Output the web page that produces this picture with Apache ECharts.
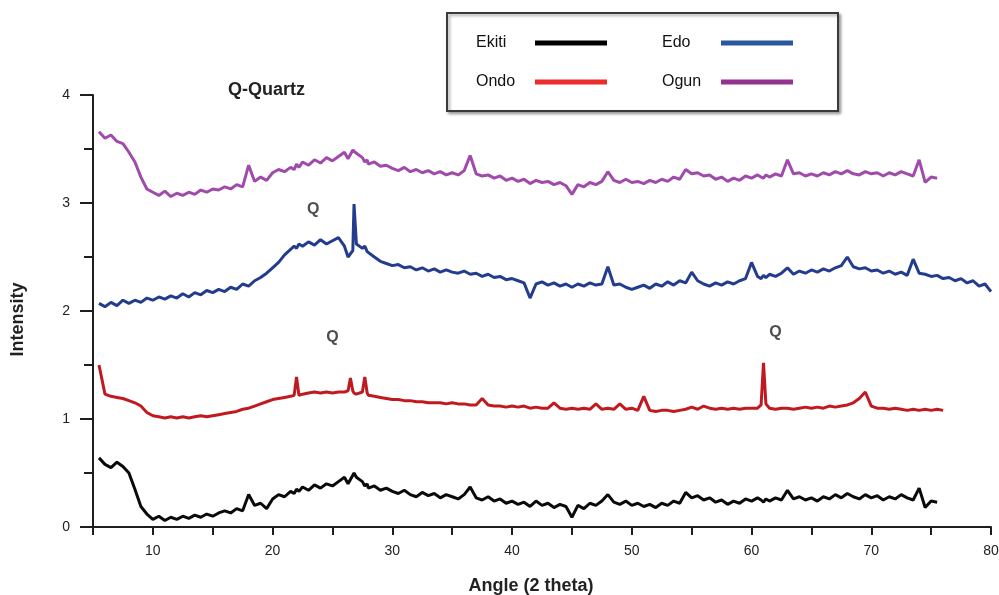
<!DOCTYPE html>
<html><head><meta charset="utf-8">
<script src="https://cdn.jsdelivr.net/npm/echarts@6/dist/echarts.min.js"></script>
<style>html,body{margin:0;padding:0;background:#fff}#c{width:999px;height:595px}</style>
</head><body><div id="c"></div>
<script>
// ---- data ----
const angles = [
  5.5, 6, 6.5, 7, 7.5, 8, 8.5, 9, 9.5, 10,
  10.5, 11, 11.5, 12, 12.5, 13, 13.5, 14, 14.5, 15,
  15.5, 16, 16.5, 17, 17.5, 18, 18.5, 19, 19.5, 20,
  20.5, 21, 21.5, 21.8, 22, 22.2, 22.5, 23, 23.5, 24, 24.5, 25,
  25.5, 26, 26.3, 26.5, 26.7, 26.8, 27, 27.5, 27.7, 27.9, 28, 28.5, 29, 29.5, 30,
  30.5, 31, 31.5, 32, 32.5, 33, 33.5, 34, 34.5, 35,
  35.5, 36, 36.5, 37, 37.5, 38, 38.5, 39, 39.5, 40,
  40.5, 41, 41.5, 42, 42.5, 43, 43.5, 44, 44.5, 45,
  45.5, 46, 46.5, 47, 47.5, 48, 48.5, 49, 49.5, 50,
  50.5, 51, 51.5, 52, 52.5, 53, 53.5, 54, 54.5, 55,
  55.5, 56, 56.5, 57, 57.5, 58, 58.5, 59, 59.5, 60,
  60.5, 60.8, 61, 61.2, 61.5, 62, 62.5, 63, 63.5, 64, 64.5, 65,
  65.5, 66, 66.5, 67, 67.5, 68, 68.5, 69, 69.5, 70,
  70.5, 71, 71.5, 72, 72.5, 73, 73.5, 74, 74.5, 75,
  75.5, 76, 76.5, 77, 77.5, 78, 78.5, 79, 79.5, 80
];
const ekiti = [
  0.64, 0.58, 0.55, 0.6, 0.56, 0.5, 0.35, 0.19, 0.12, 0.07,
  0.1, 0.06, 0.09, 0.07, 0.1, 0.08, 0.11, 0.09, 0.12, 0.1,
  0.13, 0.15, 0.13, 0.17, 0.15, 0.3, 0.2, 0.22, 0.17, 0.26,
  0.3, 0.28, 0.33, 0.31, 0.35, 0.33, 0.37, 0.34, 0.39, 0.36, 0.4, 0.38,
  0.42, 0.46, 0.4, 0.44, 0.48, 0.5, 0.46, 0.42, 0.38, 0.4, 0.36, 0.38, 0.34, 0.36, 0.33,
  0.31, 0.34, 0.3, 0.28, 0.32, 0.29, 0.31, 0.27, 0.3, 0.28,
  0.26, 0.3, 0.37, 0.27, 0.25, 0.28, 0.24, 0.26, 0.22, 0.24,
  0.21, 0.23, 0.19, 0.24, 0.2, 0.22, 0.18, 0.21, 0.19, 0.09,
  0.2, 0.17, 0.22, 0.2, 0.24, 0.3, 0.23, 0.21, 0.24, 0.2,
  0.22, 0.19, 0.21, 0.18, 0.22, 0.2, 0.24, 0.22, 0.32, 0.27,
  0.29, 0.25, 0.27, 0.23, 0.25, 0.21, 0.24, 0.22, 0.26, 0.24,
  0.27, 0.25, 0.23, 0.26, 0.24, 0.27, 0.25, 0.34, 0.26, 0.28, 0.25, 0.27,
  0.24, 0.28, 0.26, 0.3, 0.27, 0.31, 0.28, 0.26, 0.3, 0.27,
  0.29, 0.25, 0.28, 0.26, 0.3, 0.27, 0.25, 0.36, 0.18, 0.24,
  0.23, null, null, null, null, null, null, null, null, null
];
const ondo = [
  1.5, 1.23, 1.21, 1.2, 1.19, 1.17, 1.15, 1.12, 1.06, 1.03,
  1.02, 1.01, 1.02, 1.01, 1.02, 1.01, 1.02, 1.03, 1.02, 1.03,
  1.04, 1.05, 1.06, 1.07, 1.09, 1.1, 1.12, 1.14, 1.16, 1.18,
  1.19, 1.2, 1.21, 1.22, 1.39, 1.22, 1.23, 1.24, 1.25, 1.24, 1.25, 1.24,
  1.25, 1.25, 1.26, 1.38, 1.26, 1.24, 1.23, 1.25, 1.39, 1.24, 1.22, 1.21, 1.2, 1.19, 1.18,
  1.18, 1.17, 1.17, 1.16, 1.16, 1.15, 1.15, 1.15, 1.14, 1.15,
  1.14, 1.14, 1.13, 1.13, 1.19, 1.13, 1.12, 1.12, 1.11, 1.12,
  1.11, 1.12, 1.1, 1.11, 1.1, 1.1, 1.15, 1.1, 1.09, 1.1,
  1.09, 1.1, 1.09, 1.14, 1.09, 1.1, 1.09, 1.14, 1.09, 1.1,
  1.08, 1.21, 1.08, 1.07, 1.08, 1.08, 1.07, 1.08, 1.09, 1.11,
  1.09, 1.12, 1.1, 1.09, 1.1, 1.09, 1.1, 1.09, 1.1, 1.1,
  1.1, 1.13, 1.52, 1.14, 1.1, 1.09, 1.1, 1.1, 1.09, 1.1, 1.11, 1.1,
  1.11, 1.1, 1.12, 1.11, 1.12, 1.13, 1.15, 1.19, 1.25, 1.12,
  1.1, 1.1, 1.09, 1.1, 1.09, 1.08, 1.09, 1.08, 1.09, 1.08,
  1.09, 1.08, null, null, null, null, null, null, null, null
];
const edo = [
  2.07, 2.04, 2.08, 2.05, 2.1, 2.07, 2.1, 2.08, 2.12, 2.1,
  2.13, 2.11, 2.14, 2.12, 2.16, 2.13, 2.17, 2.15, 2.19, 2.17,
  2.2, 2.18, 2.22, 2.2, 2.25, 2.23, 2.28, 2.31, 2.35, 2.4,
  2.45, 2.52, 2.57, 2.6, 2.58, 2.62, 2.6, 2.64, 2.61, 2.66, 2.62, 2.65,
  2.68, 2.6, 2.5, 2.53, 2.56, 2.99, 2.62, 2.58, 2.6, 2.55, 2.54, 2.5, 2.46, 2.44, 2.42,
  2.43, 2.4, 2.41, 2.38, 2.4, 2.37, 2.39, 2.36, 2.38, 2.36,
  2.35, 2.37, 2.34, 2.35, 2.32, 2.34, 2.31, 2.32, 2.29, 2.3,
  2.28, 2.26, 2.12, 2.25, 2.27, 2.24, 2.26, 2.23, 2.25, 2.22,
  2.25, 2.23, 2.26, 2.24, 2.25, 2.41, 2.24, 2.25, 2.22, 2.2,
  2.22, 2.24, 2.21, 2.25, 2.23, 2.27, 2.24, 2.28, 2.26, 2.36,
  2.28, 2.25, 2.23, 2.26, 2.24, 2.27, 2.25, 2.28, 2.3, 2.45,
  2.32, 2.3, 2.33, 2.31, 2.34, 2.32, 2.35, 2.4, 2.34, 2.37, 2.35, 2.38,
  2.36, 2.39, 2.37, 2.4, 2.42, 2.5, 2.41, 2.39, 2.4, 2.37,
  2.38, 2.35, 2.37, 2.34, 2.36, 2.33, 2.48, 2.35, 2.34, 2.32,
  2.33, 2.3, 2.31, 2.28, 2.3, 2.26, 2.28, 2.23, 2.25, 2.18
];
const ogun = [
  3.66, 3.6, 3.63, 3.57, 3.55, 3.47, 3.38, 3.24, 3.13, 3.1,
  3.07, 3.11, 3.06, 3.09, 3.07, 3.1, 3.08, 3.12, 3.1, 3.13,
  3.12, 3.15, 3.13, 3.17, 3.15, 3.35, 3.2, 3.24, 3.21, 3.28,
  3.31, 3.29, 3.33, 3.31, 3.36, 3.33, 3.38, 3.35, 3.4, 3.37, 3.42, 3.39,
  3.43, 3.47, 3.41, 3.45, 3.49, 3.5, 3.46, 3.42, 3.38, 3.4, 3.36, 3.38, 3.34, 3.35, 3.32,
  3.3, 3.33, 3.29, 3.31, 3.28, 3.3, 3.27, 3.29, 3.26, 3.28,
  3.26, 3.3, 3.44, 3.27, 3.25, 3.26, 3.23, 3.25, 3.21, 3.23,
  3.2, 3.22, 3.18, 3.21, 3.19, 3.2, 3.17, 3.19, 3.16, 3.08,
  3.17, 3.15, 3.19, 3.17, 3.2, 3.29, 3.21, 3.19, 3.22, 3.19,
  3.2, 3.18, 3.21, 3.19, 3.22, 3.2, 3.24, 3.22, 3.31, 3.27,
  3.28, 3.25, 3.26, 3.22, 3.24, 3.2, 3.23, 3.21, 3.25, 3.23,
  3.26, 3.24, 3.23, 3.26, 3.24, 3.27, 3.25, 3.4, 3.27, 3.28, 3.25, 3.27,
  3.25, 3.28, 3.26, 3.29, 3.27, 3.3, 3.27, 3.26, 3.29, 3.27,
  3.28, 3.25, 3.28, 3.26, 3.29, 3.27, 3.25, 3.4, 3.19, 3.24,
  3.23, null, null, null, null, null, null, null, null, null
];
const seriesNames = ['Ekiti', 'Ondo', 'Edo', 'Ogun'];
const xTickLabels = [10, 20, 30, 40, 50, 60, 70, 80];
const yTickLabels = [0, 1, 2, 3, 4];
const qMarks = [[23.4, 2.94], [25.0, 1.75], [62.0, 1.8]];

// ---- chart ----
const FONT = '"Liberation Sans", Arial, sans-serif';
const TXT = '#222';
const colors = { Ekiti: '#0a0a0a', Ondo: '#c01a20', Edo: '#233c8e', Ogun: '#a04aab' };
const legendColors = { Ekiti: '#000000', Ondo: '#ec2b2b', Edo: '#2a56a0', Ogun: '#93338f' };
const valuesByName = { Ekiti: ekiti, Ondo: ondo, Edo: edo, Ogun: ogun };

const pair = arr => angles.map((a, i) => [a, arr[i]]);

const legendCommon = {
  orient: 'horizontal', align: 'right', icon: 'rect',
  itemWidth: 72, itemHeight: 5, itemGap: 55, padding: 0,
  selectedMode: false,
  formatter: '{t|{name}}',
  textStyle: { rich: { t: { width: 54, align: 'left', fontSize: 16, color: '#111', fontFamily: FONT } } }
};
const legendItem = n => ({ name: n, itemStyle: { color: legendColors[n] } });

const chart = echarts.init(document.getElementById('c'), null, { renderer: 'canvas' });
chart.setOption({
  animation: false,
  backgroundColor: '#fff',
  textStyle: { fontFamily: FONT },
  title: {
    text: 'Q-Quartz', left: 228, top: 81, padding: 0,
    textStyle: { fontSize: 18, fontWeight: 'bold', color: TXT, fontFamily: FONT }
  },
  graphic: [{
    type: 'rect', left: 446, top: 12, z: -10,
    shape: { width: 391, height: 98 },
    style: { fill: '#fff', stroke: '#3a3a3a', lineWidth: 2,
      shadowBlur: 3, shadowOffsetX: 2, shadowOffsetY: 2, shadowColor: 'rgba(0,0,0,0.35)' }
  }],
  legend: [
    Object.assign({}, legendCommon, { left: 476, top: 35, data: [legendItem('Ekiti'), legendItem('Edo')] }),
    Object.assign({}, legendCommon, { left: 476, top: 74, data: [legendItem('Ondo'), legendItem('Ogun')] })
  ],
  grid: { left: 93, top: 95, width: 898, height: 432, containLabel: false, outerBoundsMode: 'none' },
  xAxis: {
    type: 'value', min: 5, max: 80, interval: 5,
    name: 'Angle (2 theta)', nameLocation: 'middle', nameGap: 50,
    nameTextStyle: { fontSize: 18, fontWeight: 'bold', color: TXT, fontFamily: FONT, padding: [0, 22, 0, 0] },
    axisLine: { onZero: false, lineStyle: { color: '#1e1e1e', width: 2 } },
    axisTick: { show: true, length: 8, lineStyle: { color: '#1e1e1e', width: 2 } },
    axisLabel: {
      margin: 17, fontSize: 14, color: TXT, fontFamily: FONT,
      formatter: v => (xTickLabels.indexOf(v) >= 0 ? String(v) : '')
    },
    splitLine: { show: false }
  },
  yAxis: {
    type: 'value', min: 0, max: 4, interval: 1,
    name: 'Intensity', nameLocation: 'middle', nameGap: 66,
    nameTextStyle: { fontSize: 18, fontWeight: 'bold', color: TXT, fontFamily: FONT, padding: [0, 17, 0, 0] },
    axisLine: { show: true, onZero: false, lineStyle: { color: '#1e1e1e', width: 2 } },
    axisTick: { show: true, length: 13, lineStyle: { color: '#1e1e1e', width: 2 } },
    minorTick: { show: true, splitNumber: 2, length: 9, lineStyle: { color: '#1e1e1e', width: 2 } },
    axisLabel: {
      margin: 23, fontSize: 14, color: TXT, fontFamily: FONT,
      formatter: v => (yTickLabels.indexOf(v) >= 0 ? String(v) : '')
    },
    splitLine: { show: false },
    minorSplitLine: { show: false }
  },
  series: seriesNames.map(n => ({
    name: n, type: 'line', data: pair(valuesByName[n]),
    showSymbol: false, symbol: 'none', smooth: false, connectNulls: false,
    lineStyle: { color: colors[n], width: 3 },
    itemStyle: { color: colors[n] }
  })).concat([{
    name: 'Q', type: 'scatter', data: qMarks, symbolSize: 1, silent: true, clip: false,
    itemStyle: { color: 'rgba(0,0,0,0)' },
    label: { show: true, position: 'inside', formatter: 'Q', fontSize: 16, fontWeight: 'bold', color: TXT, fontFamily: FONT }
  }])
});
</script>
</body></html>
